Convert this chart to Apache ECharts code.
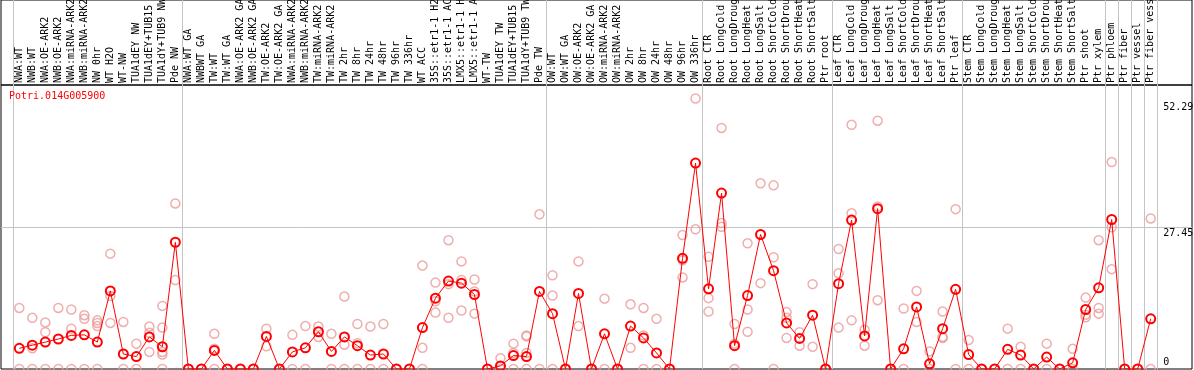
<!DOCTYPE html>
<html>
<head>
<meta charset="utf-8">
<script src="https://cdn.jsdelivr.net/npm/echarts@6/dist/echarts.min.js"></script>
<style>
html,body{margin:0;padding:0;background:#fff;}
#chart{width:1194px;height:370px;}
</style>
</head>
<body>
<div id="chart"></div>
<script>
const titleText = 'Potri.014G005900';

const categories = [
  'NWA:WT','NWB:WT','NWA:OE-ARK2','NWB:OE-ARK2','NWA:miRNA-ARK2','NWB:miRNA-ARK2','NW 0hr','WT H2O','WT-NW',
  'TUA1dEY NW','TUA1dEY+TUB15 NW','TUA1dY+TUB9 NW','Pde NW',
  'NWA:WT GA','NWBWT GA','TW:WT','TW:WT GA','NWA:OE-ARK2 GA','NWB:OE-ARK2 GA','TW:OE-ARK2','TW:OE-ARK2 GA',
  'NWA:miRNA-ARK2','NWB:miRNA-ARK2','TW:miRNA-ARK2','TW:miRNA-ARK2','TW 2hr','TW 8hr','TW 24hr','TW 48hr','TW 96hr','TW 336hr',
  'WT ACC','35S::etr1-1 H2O','35S::etr1-1 ACC','LMX5::etr1-1 H2O','LMX5::etr1-1 ACC','WT-TW','TUA1dEY TW','TUA1dEY+TUB15 TW','TUA1dY+TUB9 TW','Pde TW',
  'OW:WT','OW:WT GA','OW:OE-ARK2','OW:OE-ARK2 GA','OW:miRNA-ARK2','OW:miRNA-ARK2','OW 2hr','OW 8hr','OW 24hr','OW 48hr','OW 96hr','OW 336hr',
  'Root CTR','Root LongCold','Root LongDrought','Root LongHeat','Root LongSalt','Root ShortCold','Root ShortDrought','Root ShortHeat','Root ShortSalt','Ptr root',
  'Leaf CTR','Leaf LongCold','Leaf LongDrought','Leaf LongHeat','Leaf LongSalt','Leaf ShortCold','Leaf ShortDrought','Leaf ShortHeat','Leaf ShortSalt','Ptr leaf',
  'Stem CTR','Stem LongCold','Stem LongDrought','Stem LongHeat','Stem LongSalt','Stem ShortCold','Stem ShortDrought','Stem ShortHeat','Stem ShortSalt','Ptr shoot',
  'Ptr xylem','Ptr phloem','Ptr fiber','Ptr vessel','Ptr fiber vessel'
];

const meanValues = [
  4.0, 4.6, 5.2, 5.8, 6.5, 6.6, 5.2, 15.1, 2.9, 2.4, 6.2, 4.3, 24.5,
  0, 0, 3.6, 0, 0, 0, 6.3, 0, 3.3, 4.1, 7.2, 3.4, 6.2, 4.5, 2.7, 2.9, 0, 0,
  8.0, 13.7, 17.0, 16.6, 14.4, 0, 0.6, 2.6, 2.4, 15.0,
  10.7, 0, 14.6, 0, 6.8, 0, 8.3, 6.0, 3.1, 0, 21.4, 39.8,
  15.5, 34.0, 4.5, 14.2, 26.0, 19.0, 8.9, 5.9, 10.4, 0,
  16.5, 28.8, 6.4, 31.0, 0, 3.9, 12.0, 1.0, 7.8, 15.4,
  2.8, 0, 0, 3.8, 2.7, 0, 2.3, 0, 1.2, 11.5,
  15.7, 28.9, 0, 0, 9.7
];

const replicateValues = [
  [11.8, 0], [9.9, 4.0, 0], [9.0, 7.1, 0], [11.8, 0], [11.5, 7.8, 0], [10.4, 9.7, 0], [9.4, 8.9, 8.3, 0],
  [22.3, 14.1, 8.9], [9.1, 0], [4.9, 0], [8.2, 7.0, 3.3], [12.2, 8.0, 3.3, 2.8, 0], [32.0, 17.2],
  [0], [0], [6.8, 3.9, 0], [0], [0], [0], [7.8, 4.4], [0], [6.6, 0], [8.3, 0], [8.2, 6.2], [6.8, 0],
  [14.0, 4.7, 0], [8.7, 5.0, 0], [8.2, 0], [8.7, 0], [0], [0],
  [20.0, 4.1, 0], [16.7, 13.1, 10.9], [24.9, 16.4, 9.9], [20.8, 17.2, 11.3], [17.3, 15.0, 10.7], [0],
  [2.1, 0], [4.9, 3.1, 0], [6.5, 6.3, 3.1, 0], [29.9, 0],
  [18.1, 14.2, 0], [0], [20.8, 8.3], [0], [13.6, 0], [0], [12.5, 4.1], [11.8, 6.5, 0], [9.7, 0], [0],
  [25.9, 21.0, 17.7], [52.29, 27.0],
  [21.7, 13.7, 11.1], [46.6, 28.2, 27.5], [8.7, 4.9, 0], [24.3, 11.5, 7.2], [35.9, 16.6], [35.5, 21.6, 0],
  [11.0, 9.9, 6.0], [7.1, 4.5], [16.4, 4.3], [0],
  [23.2, 18.5, 8.0], [47.2, 30.1, 9.4], [7.6, 4.5], [48.0, 31.4, 13.3], [0], [11.7, 0], [15.1, 9.1],
  [3.4, 0], [11.1, 6.2, 6.0], [30.9, 0],
  [5.6, 0], [0], [0], [7.8, 0], [4.3, 0], [0], [4.9, 0], [0], [3.9, 0], [13.8, 10.5, 10.0],
  [24.9, 11.8, 10.7], [40.0, 27.4, 19.3], [0], [0], [29.1, 0]
];

// category indices that start a new group (a grey separator is drawn before them)
const groupStarts = [0, 13, 41, 53, 63, 73, 84, 85, 86, 87];
const yMidLabel = [27.45];
const yMaxLabel = [52.29];
const yZeroLabel = [0];
const yMax = 54.9;

const FONT = 'DejaVu Sans Mono';
const GREY = '#c4c4c4';
const RED = '#ff0000';
const PINK = '#ec9a9a';

const chart = echarts.init(document.getElementById('chart'), null, {renderer: 'canvas'});

const scatterData = [];
replicateValues.forEach((reps, i) => reps.forEach(v => scatterData.push([i, v])));

const sepInterval = (index) => groupStarts.indexOf(index) >= 0;

const plotGrid = {left: 12.8, right: 36.8, top: 85, bottom: 1};

function labelAxis(values, vAlign, padding, fmt) {
  return {
    gridIndex: 0, type: 'value', position: 'right', min: 0, max: yMax,
    axisLine: {show: false}, axisTick: {show: false}, splitLine: {show: false},
    axisLabel: {
      customValues: values, margin: 6, fontFamily: FONT, fontSize: 10, color: '#000',
      verticalAlign: vAlign, padding: padding, formatter: fmt
    }
  };
}

chart.setOption({
  animation: false,
  backgroundColor: '#fff',
  title: {
    text: titleText, left: 9, top: 91, padding: 0,
    textStyle: {color: RED, fontFamily: FONT, fontSize: 10, fontWeight: 'normal'}
  },
  grid: [
    Object.assign({containLabel: false, outerBoundsMode: 'none'}, plotGrid),
    {left: plotGrid.left, right: plotGrid.right, top: 0, height: 85, containLabel: false, outerBoundsMode: 'none'},
    {left: 1, right: 2, top: 85, bottom: 1, show: true, borderColor: '#000', borderWidth: 1, backgroundColor: 'transparent', containLabel: false, outerBoundsMode: 'none'},
    {left: 1, right: 2, top: 0, height: 85, show: true, borderColor: '#000', borderWidth: 1, backgroundColor: 'transparent', containLabel: false, outerBoundsMode: 'none'}
  ],
  xAxis: [
    {
      gridIndex: 0, type: 'category', position: 'top', data: categories, boundaryGap: true,
      axisLine: {show: false}, axisTick: {show: false},
      axisLabel: {interval: 0, rotate: 90, margin: 2, fontFamily: FONT, fontSize: 10, color: '#000'},
      splitLine: {show: true, interval: sepInterval, lineStyle: {color: GREY, width: 1}}
    },
    {
      gridIndex: 1, type: 'category', data: categories, boundaryGap: true,
      axisLine: {show: false}, axisTick: {show: false}, axisLabel: {show: false},
      splitLine: {show: true, interval: sepInterval, lineStyle: {color: GREY, width: 1}}
    },
    {gridIndex: 2, type: 'value', show: false, min: 0, max: 1},
    {gridIndex: 3, type: 'value', show: false, min: 0, max: 1}
  ],
  yAxis: [
    labelAxis(yMidLabel, 'top', [1, 0, 0, 0], (v) => v.toFixed(2)),
    labelAxis(yZeroLabel, 'bottom', [0, 0, 2, 0], (v) => String(v)),
    {gridIndex: 1, type: 'value', show: false},
    {
      gridIndex: 2, type: 'value', min: 0, max: yMax, interval: 27.45,
      axisLine: {show: false}, axisTick: {show: false}, axisLabel: {show: false},
      splitLine: {show: true, showMinLine: false, showMaxLine: false, lineStyle: {color: GREY, width: 1}}
    },
    {gridIndex: 3, type: 'value', show: false},
    labelAxis(yMaxLabel, 'top', [4, 0, 0, 0], (v) => v.toFixed(2))
  ],
  series: [
    {
      type: 'scatter', xAxisIndex: 0, yAxisIndex: 0, data: scatterData,
      symbol: 'circle', symbolSize: 9, z: 2,
      itemStyle: {color: 'rgba(0,0,0,0)', borderColor: PINK, borderWidth: 1.5},
      emphasis: {disabled: true}
    },
    {
      type: 'line', xAxisIndex: 0, yAxisIndex: 0, data: meanValues,
      symbol: 'circle', symbolSize: 9, showSymbol: true, showAllSymbol: true, z: 3,
      lineStyle: {color: RED, width: 1},
      itemStyle: {color: 'rgba(0,0,0,0)', borderColor: RED, borderWidth: 2},
      emphasis: {disabled: true}
    }
  ]
});
</script>
</body>
</html>
